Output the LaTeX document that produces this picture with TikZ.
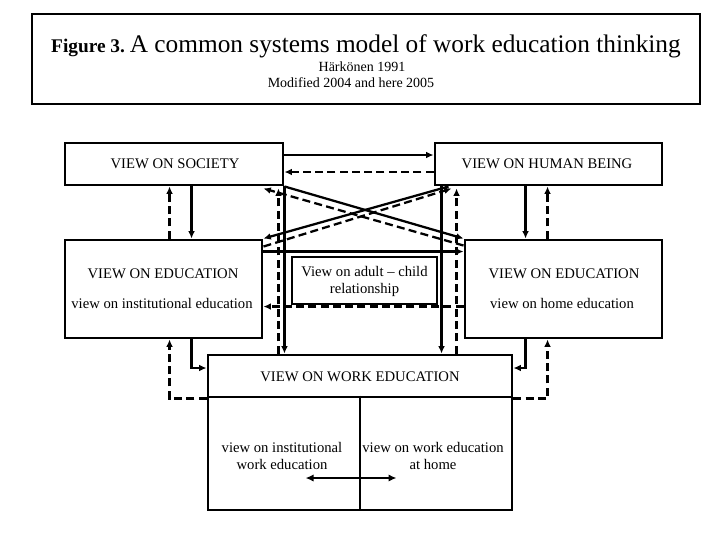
\documentclass[tikz,border=0pt]{standalone}
\usepackage{fontspec}
\setmainfont{Liberation Serif}
\usetikzlibrary{arrows.meta,calc}
\begin{document}
\begin{tikzpicture}[x=0.75pt,y=-0.75pt,
  box/.style={draw,line width=2.2pt,inner sep=0pt,rectangle,fill=white},
  lbl/.style={font=\fontsize{11}{12.75}\selectfont,inner sep=0pt},
  con/.style={line width=1.7pt},
  dsh/.style={line width=1.7pt,dash pattern=on 6pt off 3.2pt},
  tip/.style={-{Latex[length=5.5pt,width=5pt]}},
  dtip/.style={{Latex[length=6pt,width=5.5pt]}-{Latex[length=6pt,width=5.5pt]}},
]
\useasboundingbox (0,0) rectangle (720,540);
\fill[white] (0,0) rectangle (720,540);

% boxes
\node[box,minimum width=501pt,minimum height=67.5pt] (title) at (366,59) {};
\node[box,minimum width=163.5pt,minimum height=31.5pt] (soc) at (174,164) {};
\node[box,minimum width=170.25pt,minimum height=31.5pt] (hum) at (548.5,164) {};
\node[box,minimum width=147.75pt,minimum height=73.5pt] (eduL) at (163.5,289) {};
\node[box,minimum width=147.75pt,minimum height=73.5pt] (eduR) at (563.5,289) {};
\node[box,minimum width=108.75pt,minimum height=35.25pt] (adult) at (364.5,280.5) {};
\node[box,minimum width=228pt,minimum height=31.5pt] (work) at (360,376) {};
\node[box,minimum width=228pt,minimum height=84.75pt] (lower) at (360,453.5) {};

% title texts
\node[inner sep=0pt,anchor=base] (titleT) at (366,52)
  {\fontsize{14.5}{16}\selectfont\bfseries Figure 3.\ \fontsize{19}{22}\selectfont\mdseries A common systems model of work education thinking};
\node[inner sep=0pt,anchor=base,font=\fontsize{10.5}{12}\selectfont] (authT) at (362,71) {Härkönen 1991};
\node[inner sep=0pt,anchor=base,font=\fontsize{10.5}{12}\selectfont] (modT) at (351,87) {Modified 2004 and here 2005};

% box texts
\node[lbl,anchor=base] (socT) at (175,168) {VIEW ON SOCIETY};
\node[lbl,anchor=base] (humT) at (547,168) {VIEW ON HUMAN BEING};
\node[lbl,anchor=base] (eduLT) at (163,278) {VIEW ON EDUCATION};
\node[lbl,anchor=base] (eduLS) at (162,308) {view on institutional education};
\node[lbl,anchor=base] (eduRT) at (564,278) {VIEW ON EDUCATION};
\node[lbl,anchor=base] (eduRS) at (562,308) {view on home education};
\node[lbl,align=center] (adultT) at (364.5,281) {View on adult -- child\\relationship};
\node[lbl,anchor=base] (workT) at (360,381) {VIEW ON WORK EDUCATION};
\node[lbl,align=center] (instT) at (282,456) {view on institutional\\work education};
\node[lbl,align=center] (homeT) at (433,456) {view on work education\\at home};

% divider in lower box
\draw[line width=2.2pt] (lower.north) -- (lower.south);
\coordinate (dl) at ($(lower.west)+(99,24.5)$);
\coordinate (dr) at ($(lower.west)+(190,24.5)$);
\draw[con,dtip] (dl) -- (dr);

% helper coordinates
\coordinate (sA) at ($(soc.south west)+(128,0)$);
\coordinate (sB) at ($(soc.south west)+(106,0)$);
\coordinate (hA) at ($(hum.south west)+(92,0)$);
\coordinate (hB) at ($(hum.south west)+(114,0)$);
\coordinate (sC) at ($(soc.south east)+(-6,2)$);
\coordinate (hC) at ($(hum.south west)+(8,0)$);
\coordinate (hD) at ($(hum.south west)+(23,2)$);
\coordinate (lA) at ($(eduL.south west)+(128,0)$);
\coordinate (lB) at ($(eduL.south west)+(106,0)$);
\coordinate (rA) at ($(eduR.south west)+(62,0)$);
\coordinate (rB) at ($(eduR.south west)+(84,0)$);

% society <-> human being
\draw[con,tip] ($(soc.east)+(0,-9)$) -- ($(hum.west)+(0,-9)$);
\draw[dsh,tip] ($(hum.west)+(0,8)$) -- ($(soc.east)+(0,8)$);

% society <-> left education
\draw[con,tip] (sA) -- (sA |- eduL.north);
\draw[dsh,tip] (sB |- eduL.north) -- (sB);

% human being <-> right education
\draw[con,tip] (hA) -- (hA |- eduR.north);
\draw[dsh,tip] (hB |- eduR.north) -- (hB);

% diagonals
\draw[con,tip] (soc.south east) -- (eduR.north west);
\draw[dsh,tip] ($(eduR.north west)+(0,7)$) -- ($(soc.south east)+(-21,2)$);
\draw[con,tip] ($(hum.south west)+(15,0)$) -- (eduL.north east);
\draw[dsh,tip] ($(eduL.north east)+(0,8)$) -- ($(hum.south west)+(18,2)$);

% education left <-> right
\draw[con,tip] ($(eduL.north east)+(0,13)$) -- ($(eduR.north west)+(0,13)$);
\draw[dsh,tip] ($(eduR.north west)+(0,68)$) -- ($(eduL.north east)+(0,68)$);

% society / human being <-> work education
\draw[con,tip] (soc.south east) -- (soc.south east |- work.north);
\draw[dsh,tip] (sC |- work.north) -- (sC);
\draw[con,tip] (hC) -- (hC |- work.north);
\draw[dsh,tip] (hD |- work.north) -- (hD);

% education <-> work education
\draw[con,tip] (lA) |- ($(work.west)+(0,-8)$);
\draw[dsh,tip] (work.south west) -| (lB);
\draw[con,tip] (rA) |- ($(work.east)+(0,-8)$);
\draw[dsh,tip] (work.south east) -| (rB);
\end{tikzpicture}
\end{document}
